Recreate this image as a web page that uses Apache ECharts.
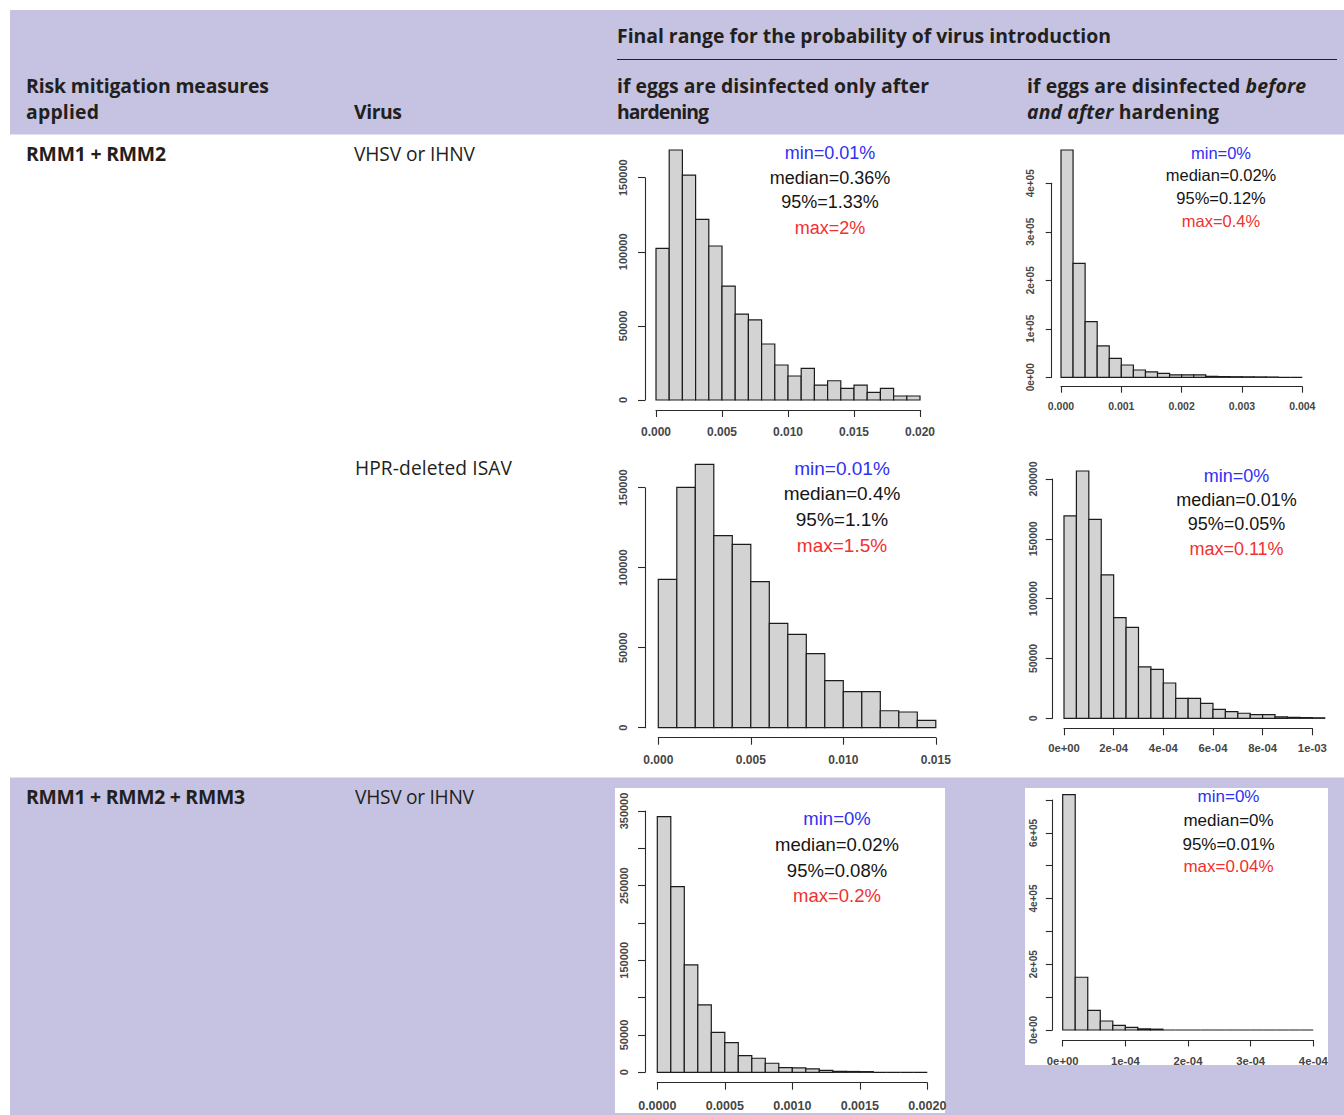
<!DOCTYPE html>
<html><head><meta charset="utf-8">
<script src="https://cdn.jsdelivr.net/npm/echarts@6/dist/echarts.min.js"></script>
<style>
html,body{margin:0;padding:0;background:#fff;}
#wrap{position:relative;width:1344px;height:1115px;overflow:hidden;}
#table{position:absolute;left:0;top:0;}
#chart{position:absolute;left:0;top:0;width:1344px;height:1115px;}
.hd{font-family:'Open Sans',sans-serif;font-weight:700;font-size:19.4px;fill:#231f20;}
.rg{font-family:'Open Sans',sans-serif;font-weight:400;font-size:19.2px;fill:#231f20;}
</style></head>
<body><div id="wrap">
<svg id="table" width="1344" height="1115" xmlns="http://www.w3.org/2000/svg">
 <rect x="10" y="10" width="1334" height="124.5" fill="#c5c3e1"/>
 <rect x="10" y="777.5" width="1334" height="337.5" fill="#c5c3e1"/>
 <rect x="615" y="788" width="330" height="325" fill="#ffffff"/>
 <rect x="1025" y="788" width="303" height="277" fill="#ffffff"/>
 <line x1="617" x2="1337" y1="59.5" y2="59.5" stroke="#231f20" stroke-width="1"/>
 <text class="hd" x="617" y="43" textLength="494" lengthAdjust="spacing">Final range for the probability of virus introduction</text>
 <text class="hd" x="26" y="93" textLength="243" lengthAdjust="spacing">Risk mitigation measures</text>
 <text class="hd" x="26" y="119" textLength="73" lengthAdjust="spacing">applied</text>
 <text class="hd" x="354" y="119" textLength="48" lengthAdjust="spacing">Virus</text>
 <text class="hd" x="617" y="93" textLength="312" lengthAdjust="spacing">if eggs are disinfected only after</text>
 <text class="hd" x="617" y="119" textLength="92" lengthAdjust="spacing">hardening</text>
 <text class="hd" x="1027" y="93" textLength="279" lengthAdjust="spacing">if eggs are disinfected <tspan font-style="italic">before</tspan></text>
 <text class="hd" x="1027" y="119" textLength="192" lengthAdjust="spacing"><tspan font-style="italic">and after</tspan> hardening</text>
 <text class="hd" x="26" y="161" textLength="140" lengthAdjust="spacing">RMM1 + RMM2</text>
 <text class="rg" x="354" y="161" textLength="121" lengthAdjust="spacing">VHSV or IHNV</text>
 <text class="rg" x="355" y="475" textLength="157" lengthAdjust="spacing">HPR-deleted ISAV</text>
 <text class="hd" x="26" y="804" textLength="219" lengthAdjust="spacing">RMM1 + RMM2 + RMM3</text>
 <text class="rg" x="355" y="804" textLength="119" lengthAdjust="spacing">VHSV or IHNV</text>
</svg>
<div id="chart"></div>
</div>
<script>
// ---- data ----
// RMM1+RMM2, VHSV/IHNV, disinfected only after hardening
const binWidth1 = 0.001;
const counts1 = [102300,168700,151800,121900,103900,76900,58000,54000,37800,23600,16200,21400,10100,13000,7900,10100,5200,7900,2700,2700];
const stats1 = ['min=0.01%','median=0.36%','95%=1.33%','max=2%'];
// RMM1+RMM2, VHSV/IHNV, disinfected before and after hardening
const binWidth2 = 0.0002;
const counts2 = [468700,235100,114800,64600,39200,25400,15100,11000,8200,4800,4800,4800,2000,1500,1200,1000,800,600,0,0];
const stats2 = ['min=0%','median=0.02%','95%=0.12%','max=0.4%'];
// RMM1+RMM2, HPR-deleted ISAV, only after
const binWidth3 = 0.001;
const counts3 = [92700,150200,164600,120000,114600,91300,65200,58300,46300,29400,22500,22500,10600,9800,4600];
const stats3 = ['min=0.01%','median=0.4%','95%=1.1%','max=1.5%'];
// RMM1+RMM2, HPR-deleted ISAV, before and after
const binWidth4 = 0.00005;
const counts4 = [169100,206700,166300,119800,84100,76000,42900,40900,29500,16700,16700,12500,7500,5600,4200,3100,3100,1200,800,600,400];
const stats4 = ['min=0%','median=0.01%','95%=0.05%','max=0.11%'];
// RMM1+RMM2+RMM3, VHSV/IHNV, only after
const binWidth5 = 0.0001;
const counts5 = [342400,248700,143800,90200,53600,39700,22300,18800,12100,6300,5800,4500,2700,1300,1100,900,0,0,0,0];
const stats5 = ['min=0%','median=0.02%','95%=0.08%','max=0.2%'];
// RMM1+RMM2+RMM3, VHSV/IHNV, before and after
const binWidth6 = 0.00002;
const counts6 = [716500,160600,60000,27400,14200,8100,3500,2500,0,0,0,0,0,0,0,0,0,0,0,0];
const stats6 = ['min=0%','median=0%','95%=0.01%','max=0.04%'];

// axis ranges
const xRanges = [[0,0.02,0.005],[0,0.004,0.001],[0,0.015,0.005],[0,0.001,0.0002],[0,0.002,0.0005],[0,0.0004,0.0001]];
const yRanges = [[0,150000,50000],[0,400000,100000],[0,150000,50000],[0,200000,50000],[0,350000,50000],[0,700000,100000]];

// tick label formatters
const sci = v => { if (v === 0) return '0e+00'; let s = v.toExponential(0); return s.replace(/e([+-])(\d)$/, 'e$10$2'); };
const fixed = d => v => v.toFixed(d);
const plain = v => String(Math.round(v));
const xFormats = [fixed(3), fixed(3), fixed(3), sci, fixed(4), sci];
const yFormats = [plain, sci, plain,
  plain,
  v => ([100000,200000,300000].indexOf(Math.round(v)) >= 0 ? '' : plain(v)),
  v => (Math.round(v/100000) % 2 === 1 ? '' : sci(v))];

const statColors = ['#3030f2', '#151515', '#151515', '#f23030'];

// ---- layout ----
const panels = [
  {counts: counts1, bw: binWidth1, stats: stats1, grid:[656,177.7,264,222.3], xoff:10, yoff:11, tick:7, xfs:12, yfs:11, xm:16, ym:16.5, ann:{x:830, y:[153,177.5,202,227.5], fs:18}},
  {counts: counts2, bw: binWidth2, stats: stats2, grid:[1061,183.3,241.3,194], xoff:9.4, yoff:9.3, tick:6, xfs:10.5, yfs:10, xm:14, ym:16.7, ann:{x:1221, y:[152.5,174.8,197.5,220.5], fs:16.5}},
  {counts: counts3, bw: binWidth3, stats: stats3, grid:[658.3,487.7,277.5,240], xoff:10, yoff:13.3, tick:7, xfs:12, yfs:11, xm:16, ym:16.5, ann:{x:842, y:[468.3,493.5,519.3,545], fs:19}},
  {counts: counts4, bw: binWidth4, stats: stats4, grid:[1064,479,248.3,239.3], xoff:10, yoff:11.3, tick:7, xfs:11.3, yfs:10.5, xm:14.5, ym:14.7, ann:{x:1236.5, y:[475.7,499.5,524.3,549.3], fs:18}},
  {counts: counts5, bw: binWidth5, stats: stats5, grid:[657.3,811,270,261.3], xoff:10.4, yoff:12.3, tick:7, xfs:12.5, yfs:11, xm:16.5, ym:15.2, ann:{x:837, y:[818.5,844.5,870,895.5], fs:18.5}},
  {counts: counts6, bw: binWidth6, stats: stats6, grid:[1062.7,800,250.6,230], xoff:10, yoff:10.4, tick:6.5, xfs:11.3, yfs:10, xm:15, ym:14, ann:{x:1228.5, y:[796.7,820,844.3,866.7], fs:17}}
];

const axisColor = '#2a2a2a';
const labelColor = '#464646';
const font = '"Liberation Sans", Arial, sans-serif';

function renderBar(params, api) {
  const p0 = api.coord([api.value(0), api.value(2)]);
  const p1 = api.coord([api.value(1), 0]);
  return {
    type: 'rect',
    shape: {x: p0[0], y: p0[1], width: p1[0] - p0[0], height: p1[1] - p0[1]},
    style: {fill: '#d3d3d3', stroke: '#1c1c1c', lineWidth: 1.2}
  };
}

const option = {
  animation: false,
  textStyle: {fontFamily: font},
  grid: panels.map(p => ({left: p.grid[0], top: p.grid[1], width: p.grid[2], height: p.grid[3], containLabel: false, outerBoundsMode: 'none'})),
  xAxis: panels.map((p, i) => ({
    gridIndex: i, type: 'value', min: xRanges[i][0], max: xRanges[i][1], interval: xRanges[i][2],
    offset: p.xoff,
    axisLine: {show: true, onZero: false, lineStyle: {color: axisColor, width: 1.1}},
    axisTick: {show: true, length: p.tick, lineStyle: {color: axisColor, width: 1.1}},
    splitLine: {show: false},
    axisLabel: {show: true, margin: p.xm, fontSize: p.xfs, fontWeight: 'bold', color: labelColor, fontFamily: font, formatter: xFormats[i], hideOverlap: false}
  })),
  yAxis: panels.map((p, i) => ({
    gridIndex: i, type: 'value', min: yRanges[i][0], max: yRanges[i][1], interval: yRanges[i][2],
    offset: p.yoff,
    axisLine: {show: true, onZero: false, lineStyle: {color: axisColor, width: 1.1}},
    axisTick: {show: true, length: p.tick, lineStyle: {color: axisColor, width: 1.1}},
    splitLine: {show: false},
    axisLabel: {show: true, rotate: 90, margin: p.ym, fontSize: p.yfs, fontWeight: 'bold', color: labelColor, fontFamily: font, formatter: yFormats[i], hideOverlap: false}
  })),
  series: panels.map((p, i) => ({
    type: 'custom', xAxisIndex: i, yAxisIndex: i, clip: false, silent: true,
    renderItem: renderBar,
    encode: {x: [0, 1], y: 2},
    data: p.counts.map((v, k) => [k * p.bw, (k + 1) * p.bw, v])
  })),
  graphic: panels.flatMap(p => p.stats.map((s, j) => ({
    type: 'text', x: p.ann.x, y: p.ann.y[j], silent: true,
    style: {text: s, fill: statColors[j], fontSize: p.ann.fs, fontFamily: font, align: 'center', verticalAlign: 'middle'}
  })))
};

const chart = echarts.init(document.getElementById('chart'), null, {renderer: 'svg', width: 1344, height: 1115});
chart.setOption(option);
</script>
</body></html>
